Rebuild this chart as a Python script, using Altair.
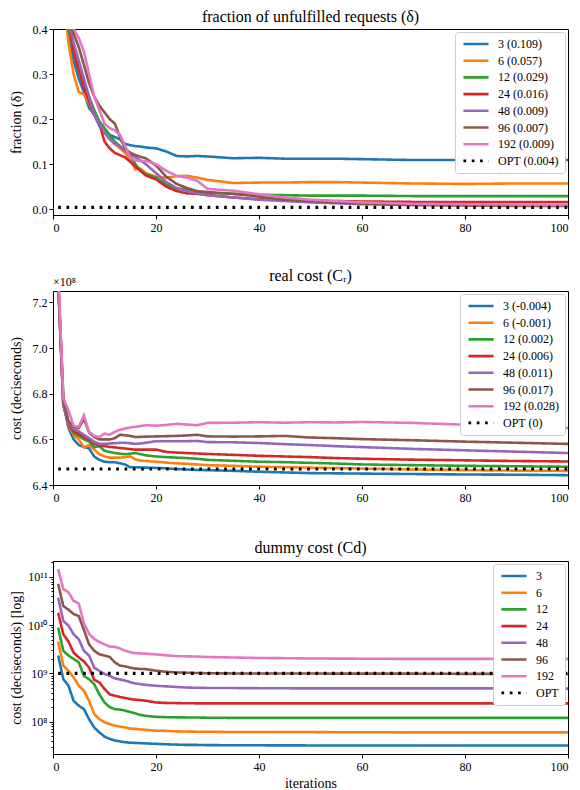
import altair as alt
import pandas as pd

FONT = "Liberation Serif"

ITER = [1, 2, 3, 4, 5, 6, 7, 8, 9, 10, 11, 12, 13, 14, 15, 16, 17, 18,
        20, 22, 24, 26, 28, 30, 35, 40, 45, 50, 55, 60, 70, 80, 90, 100]
SERIES = ["3", "6", "12", "24", "48", "96", "192"]
COLORS = ["#1f77b4", "#ff7f0e", "#2ca02c", "#d62728", "#9467bd", "#8c564b", "#e377c2"]
X_TICKS = [0, 20, 40, 60, 80, 100]

# ---- panel 1: fraction of unfulfilled requests
FRAC = {
    "3":   [0.62, 0.50, 0.40, 0.33, 0.29, 0.26, 0.225, 0.21, 0.185, 0.17, 0.165, 0.16, 0.155, 0.145, 0.142, 0.140, 0.139, 0.137,
            0.135, 0.128, 0.118, 0.117, 0.118, 0.117, 0.113, 0.114, 0.112, 0.112, 0.112, 0.111, 0.109, 0.109, 0.109, 0.109],
    "6":   [0.60, 0.48, 0.37, 0.30, 0.26, 0.255, 0.235, 0.21, 0.19, 0.17, 0.16, 0.145, 0.135, 0.125, 0.11, 0.088, 0.09, 0.08,
            0.072, 0.07, 0.073, 0.074, 0.07, 0.065, 0.058, 0.059, 0.059, 0.060, 0.060, 0.059, 0.057, 0.056, 0.057, 0.057],
    "12":  [0.60, 0.48, 0.40, 0.35, 0.31, 0.28, 0.25, 0.22, 0.195, 0.18, 0.165, 0.15, 0.14, 0.13, 0.12, 0.10, 0.085, 0.078,
            0.07, 0.055, 0.046, 0.043, 0.038, 0.036, 0.034, 0.032, 0.031, 0.030, 0.030, 0.030, 0.029, 0.029, 0.029, 0.029],
    "24":  [0.62, 0.50, 0.42, 0.35, 0.31, 0.27, 0.24, 0.21, 0.19, 0.15, 0.135, 0.125, 0.12, 0.115, 0.105, 0.095, 0.085, 0.075,
            0.066, 0.05, 0.04, 0.035, 0.034, 0.031, 0.026, 0.022, 0.020, 0.019, 0.018, 0.017, 0.016, 0.016, 0.016, 0.016],
    "48":  [0.62, 0.50, 0.42, 0.37, 0.33, 0.29, 0.25, 0.21, 0.19, 0.17, 0.155, 0.145, 0.14, 0.13, 0.125, 0.115, 0.108, 0.10,
            0.08, 0.06, 0.047, 0.04, 0.035, 0.031, 0.026, 0.021, 0.018, 0.015, 0.013, 0.011, 0.010, 0.009, 0.009, 0.009],
    "96":  [0.65, 0.52, 0.43, 0.39, 0.36, 0.32, 0.28, 0.25, 0.23, 0.215, 0.20, 0.19, 0.16, 0.135, 0.125, 0.12, 0.116, 0.113,
            0.097, 0.072, 0.056, 0.047, 0.04, 0.038, 0.034, 0.028, 0.021, 0.018, 0.015, 0.012, 0.009, 0.008, 0.007, 0.007],
    "192": [0.68, 0.55, 0.45, 0.40, 0.38, 0.35, 0.30, 0.25, 0.22, 0.19, 0.18, 0.175, 0.165, 0.14, 0.115, 0.108, 0.107, 0.107,
            0.10, 0.085, 0.074, 0.07, 0.063, 0.045, 0.041, 0.033, 0.026, 0.021, 0.018, 0.015, 0.012, 0.011, 0.010, 0.009],
}
FRAC_LABELS = ["3 (0.109)", "6 (0.057)", "12 (0.029)", "24 (0.016)", "48 (0.009)",
               "96 (0.007)", "192 (0.009)", "OPT (0.004)"]
FRAC_OPT = 0.004
FRAC_TICKS = [0.0, 0.1, 0.2, 0.3, 0.4]

# ---- panel 2: real cost (x 1e8 deciseconds)
REAL = {
    "3":   [7.30, 6.76, 6.65, 6.60, 6.575, 6.567, 6.56, 6.525, 6.51, 6.502, 6.50, 6.50, 6.495, 6.49, 6.478, 6.478, 6.477, 6.476,
            6.475, 6.473, 6.47, 6.468, 6.466, 6.465, 6.462, 6.458, 6.455, 6.452, 6.451, 6.45, 6.448, 6.446, 6.445, 6.443],
    "6":   [7.30, 6.76, 6.66, 6.62, 6.60, 6.565, 6.575, 6.555, 6.535, 6.525, 6.52, 6.52, 6.52, 6.522, 6.525, 6.512, 6.507, 6.505,
            6.502, 6.498, 6.495, 6.493, 6.49, 6.487, 6.484, 6.48, 6.478, 6.476, 6.474, 6.472, 6.468, 6.465, 6.463, 6.462],
    "12":  [7.30, 6.79, 6.67, 6.63, 6.615, 6.60, 6.59, 6.565, 6.57, 6.55, 6.545, 6.54, 6.537, 6.535, 6.537, 6.54, 6.535, 6.53,
            6.525, 6.522, 6.52, 6.518, 6.515, 6.51, 6.506, 6.502, 6.50, 6.497, 6.494, 6.49, 6.487, 6.484, 6.482, 6.48],
    "24":  [7.30, 6.75, 6.665, 6.635, 6.625, 6.61, 6.60, 6.58, 6.575, 6.57, 6.567, 6.565, 6.562, 6.56, 6.557, 6.555, 6.555, 6.555,
            6.555, 6.545, 6.542, 6.54, 6.538, 6.536, 6.532, 6.528, 6.525, 6.522, 6.518, 6.515, 6.511, 6.508, 6.505, 6.503],
    "48":  [7.30, 6.75, 6.67, 6.645, 6.635, 6.62, 6.605, 6.59, 6.58, 6.58, 6.582, 6.583, 6.585, 6.585, 6.583, 6.58, 6.582, 6.585,
            6.592, 6.592, 6.592, 6.592, 6.593, 6.588, 6.587, 6.584, 6.579, 6.575, 6.57, 6.566, 6.558, 6.552, 6.546, 6.54],
    "96":  [7.30, 6.77, 6.68, 6.655, 6.65, 6.69, 6.63, 6.61, 6.60, 6.60, 6.60, 6.605, 6.62, 6.618, 6.615, 6.61, 6.611, 6.612,
            6.613, 6.614, 6.615, 6.617, 6.62, 6.613, 6.612, 6.613, 6.615, 6.608, 6.605, 6.601, 6.596, 6.59, 6.585, 6.58],
    "192": [7.35, 6.78, 6.727, 6.66, 6.655, 6.705, 6.633, 6.615, 6.61, 6.625, 6.62, 6.633, 6.642, 6.647, 6.652, 6.655, 6.658, 6.662,
            6.66, 6.663, 6.668, 6.665, 6.662, 6.672, 6.673, 6.675, 6.673, 6.675, 6.674, 6.676, 6.672, 6.664, 6.658, 6.65],
}
REAL_LABELS = ["3 (-0.004)", "6 (-0.001)", "12 (0.002)", "24 (0.006)", "48 (0.011)",
               "96 (0.017)", "192 (0.028)", "OPT (0)"]
REAL_OPT = 6.47
REAL_TICKS = [6.4, 6.6, 6.8, 7.0, 7.2]
REAL_OFFSET_TEXT = ["×10⁸"]

# ---- panel 3: dummy cost (deciseconds, log scale)
DUMMY = {
    "3":   [2.35e9, 7.6e8, 5.6e8, 2.7e8, 2.15e8, 1.82e8, 1.13e8, 7.6e7, 6.0e7, 4.9e7, 4.4e7, 4.1e7, 3.9e7, 3.75e7, 3.67e7, 3.63e7, 3.6e7, 3.55e7,
            3.47e7, 3.4e7, 3.35e7, 3.3e7, 3.3e7, 3.27e7, 3.25e7, 3.24e7, 3.23e7, 3.22e7, 3.22e7, 3.22e7, 3.22e7, 3.2e7, 3.2e7, 3.2e7],
    "6":   [4.6e9, 1.45e9, 1.13e9, 8.3e8, 5.6e8, 4.4e8, 2.7e8, 1.45e8, 1.13e8, 9.8e7, 8.9e7, 8.3e7, 7.9e7, 7.6e7, 7.2e7, 7.1e7, 6.9e7, 6.8e7,
            6.5e7, 6.45e7, 6.3e7, 6.25e7, 6.2e7, 6.2e7, 6.1e7, 6.1e7, 6.1e7, 6.1e7, 6.05e7, 6.05e7, 6.0e7, 6.0e7, 6.0e7, 6.0e7],
    "12":  [8.9e9, 2.95e9, 2.35e9, 2.0e9, 1.7e9, 8.9e8, 7.6e8, 6.0e8, 3.7e8, 2.5e8, 2.0e8, 1.82e8, 1.78e8, 1.7e8, 1.58e8, 1.48e8, 1.38e8, 1.32e8,
            1.26e8, 1.24e8, 1.23e8, 1.225e8, 1.22e8, 1.21e8, 1.2e8, 1.2e8, 1.2e8, 1.2e8, 1.2e8, 1.2e8, 1.2e8, 1.2e8, 1.2e8, 1.2e8],
    "24":  [1.8e10, 6.5e9, 4.6e9, 2.7e9, 2.15e9, 1.78e9, 1.32e9, 7.4e8, 6.5e8, 4.8e8, 3.7e8, 3.45e8, 3.25e8, 3.1e8, 2.95e8, 2.85e8, 2.8e8, 2.72e8,
            2.5e8, 2.45e8, 2.43e8, 2.41e8, 2.4e8, 2.4e8, 2.4e8, 2.4e8, 2.4e8, 2.4e8, 2.4e8, 2.4e8, 2.4e8, 2.4e8, 2.4e8, 2.4e8],
    "48":  [3.7e10, 1.23e10, 9.8e9, 6.5e9, 5.1e9, 2.95e9, 2.35e9, 1.32e9, 1.13e9, 9.8e8, 8.9e8, 7.9e8, 7.5e8, 7.1e8, 6.6e8, 6.2e8, 6.0e8, 5.8e8,
            5.55e8, 5.4e8, 5.25e8, 5.1e8, 5.05e8, 5.0e8, 4.98e8, 4.95e8, 4.92e8, 4.9e8, 4.9e8, 4.9e8, 4.9e8, 4.9e8, 4.9e8, 4.85e8],
    "96":  [7.2e10, 2.5e10, 2.1e10, 1.7e10, 1.55e10, 8.0e9, 4.0e9, 2.95e9, 2.5e9, 2.35e9, 2.2e9, 1.7e9, 1.45e9, 1.4e9, 1.32e9, 1.26e9, 1.24e9, 1.23e9,
            1.14e9, 1.08e9, 1.05e9, 1.035e9, 1.02e9, 1.01e9, 1.0e9, 1.0e9, 1.0e9, 1.0e9, 9.9e8, 9.9e8, 9.9e8, 9.8e8, 9.8e8, 9.8e8],
    "192": [1.45e11, 5.6e10, 4.8e10, 3.2e10, 2.8e10, 1.1e10, 6.6e9, 5.2e9, 4.5e9, 4.0e9, 3.6e9, 3.55e9, 3.3e9, 2.95e9, 2.75e9, 2.63e9, 2.6e9, 2.57e9,
            2.48e9, 2.37e9, 2.29e9, 2.26e9, 2.24e9, 2.19e9, 2.14e9, 2.09e9, 2.07e9, 2.04e9, 2.03e9, 2.02e9, 2.0e9, 2.0e9, 2.0e9, 2.0e9],
}
DUMMY_LABELS = ["3", "6", "12", "24", "48", "96", "192", "OPT"]
DUMMY_OPT = 1.0e9
LOG_MAJOR = [1e8, 1e9, 1e10, 1e11]
LOG_MINOR = [2e7, 3e7, 4e7, 5e7, 6e7, 7e7, 8e7, 9e7,
             2e8, 3e8, 4e8, 5e8, 6e8, 7e8, 8e8, 9e8,
             2e9, 3e9, 4e9, 5e9, 6e9, 7e9, 8e9, 9e9,
             2e10, 3e10, 4e10, 5e10, 6e10, 7e10, 8e10, 9e10, 2e11]

PLOT_W = 515


def frames(values, labels, opt_value):
    rows = []
    for key, lab in zip(SERIES, labels[:-1]):
        for it, v in zip(ITER, values[key]):
            rows.append({"iter": it, "value": v, "series": lab})
    lines = pd.DataFrame(rows)
    opt = pd.DataFrame({"iter": [ITER[0], ITER[-1]], "value": [opt_value, opt_value],
                        "series": [labels[-1], labels[-1]]})
    return lines, opt


def panel(values, labels, opt_value, title, title_dy, yscale, yaxis, height, xtitle=None, extra=None):
    lines, opt = frames(values, labels, opt_value)
    legend = alt.Legend(orient="top-right", offset=3, symbolType="M-3,0L3,0", symbolSize=70,
                        symbolOffset=9, symbolStrokeWidth=2.6, labelFont=FONT, labelFontSize=12,
                        labelOffset=16, rowPadding=4.7, padding=6, fillColor="white",
                        strokeColor="#cccccc", cornerRadius=3, labelLimit=200)
    color = alt.Color("series:N", title=None,
                      scale=alt.Scale(domain=labels, range=COLORS + ["black"]), legend=legend)
    dash = alt.StrokeDash("series:N", title=None,
                          scale=alt.Scale(domain=labels, range=[[1, 0]] * 7 + [[2.7, 5.6]]), legend=legend)
    xaxis = alt.Axis(values=X_TICKS, format="d", tickSize=4, labelPadding=3)
    if xtitle:
        x = alt.X("iter:Q", title=xtitle, scale=alt.Scale(domain=[0, 100], nice=False), axis=xaxis)
    else:
        x = alt.X("iter:Q", title=None, scale=alt.Scale(domain=[0, 100], nice=False), axis=xaxis)
    ytitle = yaxis.pop("title")
    y = alt.Y("value:Q", title=ytitle, scale=yscale, axis=alt.Axis(titleY=height / 2, **yaxis))
    l1 = alt.Chart(lines).mark_line(clip=True, strokeWidth=2.6, strokeCap="butt").encode(
        x=x, y=y, color=color, strokeDash=dash)
    l2 = alt.Chart(opt).mark_line(clip=True, strokeWidth=3.2, strokeCap="butt").encode(
        x=x, y=y, color=color, strokeDash=dash)
    layers = [l1, l2]
    if extra is not None:
        layers.append(extra)
    return alt.layer(*layers).properties(
        width=PLOT_W, height=height, title=alt.Title(title, dy=title_dy))


common_axis = dict(titleX=-37, titleAngle=270, titleAlign="center", titleBaseline="middle",
                   labelPadding=2)

p1 = panel(FRAC, FRAC_LABELS, FRAC_OPT, "fraction of unfulfilled requests (δ)", 4,
           alt.Scale(domain=[-0.013, 0.4], nice=False, zero=False),
           dict(title="fraction (δ)", values=FRAC_TICKS, format=".1f", tickSize=4, **common_axis),
           186)

offset_text = alt.Chart(pd.DataFrame({"t": REAL_OFFSET_TEXT})).mark_text(
    align="left", baseline="bottom", font=FONT, fontSize=12).encode(
    x=alt.value(0), y=alt.value(-2), text="t:N")

p2 = panel(REAL, REAL_LABELS, REAL_OPT, "real cost (Cᵣ)", 10,
           alt.Scale(domain=[6.4, 7.25], nice=False, zero=False),
           dict(title="cost (deciseconds)", values=REAL_TICKS, format=".1f", tickSize=4, **common_axis),
           194, extra=offset_text)

major_test = " || ".join(f"datum.value == {v:.0f}" for v in LOG_MAJOR)
label_expr = ("datum.value == 100000000000 ? '10¹¹' : datum.value == 10000000000 ? '10¹⁰' : "
              "datum.value == 1000000000 ? '10⁹' : datum.value == 100000000 ? '10⁸' : ''")
p3 = panel(DUMMY, DUMMY_LABELS, DUMMY_OPT, "dummy cost (Cd)", -3,
           alt.Scale(type="log", domain=[2.14e7, 2.14e11], nice=False),
           dict(title="cost (deciseconds) [log]", values=sorted(LOG_MAJOR + LOG_MINOR),
                labelExpr=label_expr,
                tickSize={"condition": {"test": major_test, "value": 4}, "value": 2},
                **common_axis),
           193, xtitle="iterations")

chart = alt.vconcat(p1, p2, p3, spacing=76, bounds="flush").resolve_scale(
    color="independent", strokeDash="independent"
).properties(
    padding={"left": 0, "top": 0, "right": 0, "bottom": 0}
).configure_view(stroke="black", strokeWidth=1).configure_axis(
    domainColor="black", tickColor="black", labelColor="black", titleColor="black",
    labelFont=FONT, titleFont=FONT, labelFontSize=12, titleFontSize=14,
    titleFontWeight="normal", grid=False
).configure_title(font=FONT, fontSize=16, fontWeight="normal", offset=2, color="black")

chart.save("out.html", embed_options={"renderer": "svg", "actions": False})
